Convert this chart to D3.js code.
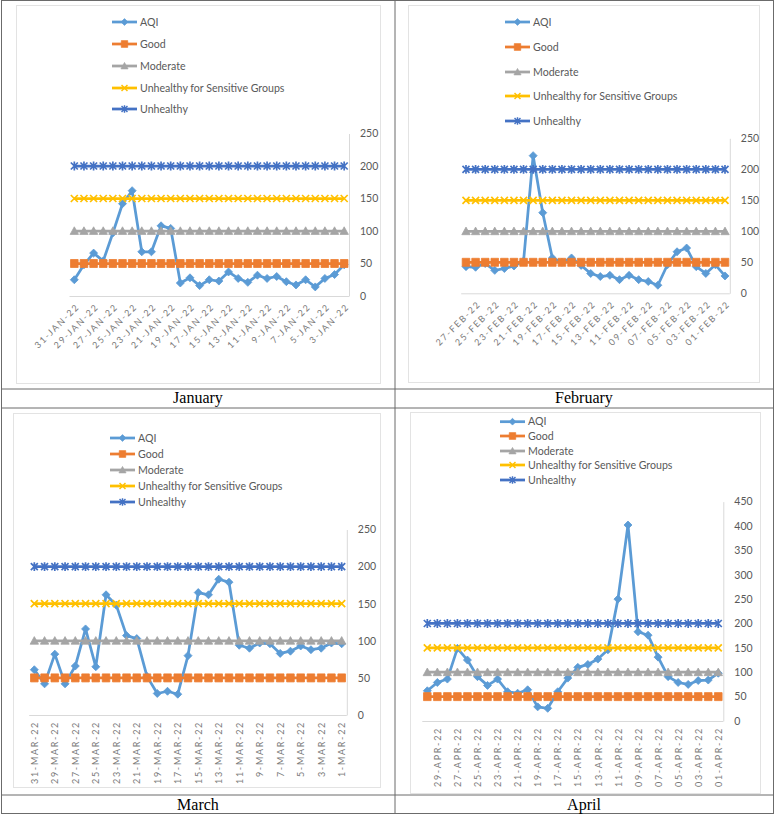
<!DOCTYPE html>
<html><head><meta charset="utf-8">
<script src="https://cdn.jsdelivr.net/npm/d3@7/dist/d3.min.js"></script>
<style>body{margin:0;background:#fff} svg{display:block}</style>
</head><body>
<svg id="c" width="776" height="815"></svg>
<script>
// ---------- DATA ----------
const seriesNames = ["AQI", "Good", "Moderate", "Unhealthy for Sensitive Groups", "Unhealthy"];
const seriesColors = ["#5B9BD5", "#ED7D31", "#A5A5A5", "#FFC000", "#4472C4"];
const levelValues = [50, 100, 150, 200]; // Good, Moderate, USG, Unhealthy
const monthNames = ["January", "February", "March", "April"];

const janDates = ["31-JAN-22","30-JAN-22","29-JAN-22","28-JAN-22","27-JAN-22","26-JAN-22","25-JAN-22","24-JAN-22","23-JAN-22","22-JAN-22","21-JAN-22","20-JAN-22","19-JAN-22","18-JAN-22","17-JAN-22","16-JAN-22","15-JAN-22","14-JAN-22","13-JAN-22","12-JAN-22","11-JAN-22","10-JAN-22","9-JAN-22","8-JAN-22","7-JAN-22","6-JAN-22","5-JAN-22","4-JAN-22","3-JAN-22"];
const janAQI = [25, 48, 66, 54, 97, 142, 162, 68, 68, 108, 104, 20, 28, 16, 25, 23, 37, 27, 21, 32, 27, 30, 22, 17, 25, 14, 27, 33, 48];

const febDates = ["28-FEB-22","27-FEB-22","26-FEB-22","25-FEB-22","24-FEB-22","23-FEB-22","22-FEB-22","21-FEB-22","20-FEB-22","19-FEB-22","18-FEB-22","17-FEB-22","16-FEB-22","15-FEB-22","14-FEB-22","13-FEB-22","12-FEB-22","11-FEB-22","10-FEB-22","09-FEB-22","08-FEB-22","07-FEB-22","06-FEB-22","05-FEB-22","04-FEB-22","03-FEB-22","02-FEB-22","01-FEB-22"];
const febAQI = [43, 42, 48, 37, 40, 44, 52, 222, 130, 57, 50, 57, 45, 32, 27, 29, 22, 29, 22, 19, 13, 46, 67, 73, 43, 32, 46, 28];

const marDates = ["31-MAR-22","30-MAR-22","29-MAR-22","28-MAR-22","27-MAR-22","26-MAR-22","25-MAR-22","24-MAR-22","23-MAR-22","22-MAR-22","21-MAR-22","20-MAR-22","19-MAR-22","18-MAR-22","17-MAR-22","16-MAR-22","15-MAR-22","14-MAR-22","13-MAR-22","12-MAR-22","11-MAR-22","10-MAR-22","9-MAR-22","8-MAR-22","7-MAR-22","6-MAR-22","5-MAR-22","4-MAR-22","3-MAR-22","2-MAR-22","1-MAR-22"];
const marAQI = [61, 42, 82, 42, 66, 116, 65, 162, 148, 107, 103, 52, 29, 32, 28, 80, 165, 162, 183, 179, 94, 90, 97, 96, 83, 86, 93, 88, 90, 97, 96];

const aprDates = ["30-APR-22","29-APR-22","28-APR-22","27-APR-22","26-APR-22","25-APR-22","24-APR-22","23-APR-22","22-APR-22","21-APR-22","20-APR-22","19-APR-22","18-APR-22","17-APR-22","16-APR-22","15-APR-22","14-APR-22","13-APR-22","12-APR-22","11-APR-22","10-APR-22","09-APR-22","08-APR-22","07-APR-22","06-APR-22","05-APR-22","04-APR-22","03-APR-22","02-APR-22","01-APR-22"];
const aprAQI = [62, 79, 86, 149, 125, 91, 73, 86, 60, 57, 64, 29, 26, 60, 88, 110, 116, 127, 146, 250, 402, 183, 176, 131, 91, 79, 75, 83, 84, 98];

const yTicksLow = [0, 50, 100, 150, 200, 250];
const yTicksHigh = [0, 50, 100, 150, 200, 250, 300, 350, 400, 450];

// ---------- LAYOUT ----------
const panels = [
  {dates: janDates, aqi: janAQI, ticks: yTicksLow, labelOffset: 0, rot: -45,
   xr: [69.5, 349], yr: [296, 133.5], box: [16, 5, 380, 383],
   leg: {x: 112, ys: [22, 44, 66, 88, 109]}, cap: {x: 198, y: 403}},
  {dates: febDates, aqi: febAQI, ticks: yTicksLow, labelOffset: 1, rot: -45,
   xr: [461.2, 729.8], yr: [293.3, 138.3], box: [408, 5, 759, 382],
   leg: {x: 505, ys: [22, 47, 72, 96, 121]}, cap: {x: 584, y: 403}},
  {dates: marDates, aqi: marAQI, ticks: yTicksLow, labelOffset: 0, rot: -90,
   xr: [29.2, 346.8], yr: [715, 529.5], box: [13, 413, 380, 787],
   leg: {x: 110, ys: [438, 454, 470, 486, 502]}, cap: {x: 198, y: 810}},
  {dates: aprDates, aqi: aprAQI, ticks: yTicksHigh, labelOffset: 1, rot: -90,
   xr: [422.3, 723.3], yr: [721, 501.6], box: [410, 412, 760, 793],
   leg: {x: 500, ys: [421.7, 436, 451, 465, 480]}, cap: {x: 584, y: 810}}
];

const svg = d3.select("#c");

// table borders
const tb = svg.append("g").attr("stroke", "#6b6b6b").attr("stroke-width", 1).attr("fill", "none");
[[1,0.5,774,0.5],[1,389,774,389],[1,408,774,408],[1,795,774,795],[1,813.5,774,813.5],
 [1.5,0,1.5,814],[395,0,395,814],[773.5,0,773.5,814]].forEach(l=>{
  tb.append("line").attr("x1",l[0]).attr("y1",l[1]).attr("x2",l[2]).attr("y2",l[3]);
});

function markerPath(k) {
  switch (k) {
    case 0: return "M0,-4L4,0L0,4L-4,0Z";
    case 1: return "M-3.8,-4H3.8V4H-3.8Z";
    case 2: return "M0,-4.2L4.2,3.4L-4.2,3.4Z";
    case 3: return "M-3.5,-3.5L3.5,3.5M-3.5,3.5L3.5,-3.5";
    case 4: return "M-3.5,-3.5L3.5,3.5M-3.5,3.5L3.5,-3.5M0,-4.4V4.4";
  }
}
function drawMarker(sel, k, color) {
  const p = sel.append("path").attr("d", markerPath(k));
  if (k >= 3) p.attr("fill", "none").attr("stroke", color).attr("stroke-width", 1.7);
  else p.attr("fill", color).attr("stroke", color).attr("stroke-width", 0.8);
  return p;
}

panels.forEach((p, pi) => {
  const g = svg.append("g");
  const b = p.box;
  g.append("rect").attr("x", b[0]+0.5).attr("y", b[1]+0.5).attr("width", b[2]-b[0]).attr("height", b[3]-b[1])
    .attr("fill", "#fff").attr("stroke", "#e3e3e3").attr("stroke-width", 1);

  const x = d3.scalePoint().domain(p.dates).range(p.xr).padding(0.5);
  const yMax = p.ticks[p.ticks.length - 1];
  const y = d3.scaleLinear().domain([0, yMax]).range(p.yr);

  // x axis
  const labelled = p.dates.filter((d, i) => i % 2 === p.labelOffset);
  const xa = g.append("g").attr("transform", `translate(0,${p.yr[0]})`)
    .call(d3.axisBottom(x).tickValues(labelled).tickSize(0).tickSizeOuter(0).tickPadding(0));
  xa.select(".domain").attr("stroke", "#d9d9d9").attr("stroke-width", 1)
    .attr("d", `M${p.xr[0]},0.5H${p.xr[1]}`);
  xa.selectAll(".tick text")
    .attr("font-family", "Lato, 'Liberation Sans', sans-serif").attr("font-size", 9)
    .attr("letter-spacing", "1.7px").attr("fill", "#7a7a7a")
    .attr("text-anchor", "end").attr("dy", "0.35em").attr("y", 0)
    .attr("transform", p.rot === -45 ? "translate(3,9) rotate(-45)" : "translate(0,6) rotate(-90)");

  // y axis (right)
  const ya = g.append("g").attr("transform", `translate(${p.xr[1]},0)`)
    .call(d3.axisRight(y).tickValues(p.ticks).tickSize(0).tickSizeOuter(0).tickPadding(11));
  ya.select(".domain").attr("stroke", "#d9d9d9");
  ya.selectAll(".tick text").attr("font-family", "Lato, 'Liberation Sans', sans-serif")
    .attr("font-size", 10.5).attr("fill", "#595959");

  // series
  const series = [p.aqi].concat(levelValues.map(v => p.dates.map(() => v)));
  series.forEach((vals, si) => {
    const line = d3.line().x((d, i) => x(p.dates[i])).y(d => y(d));
    g.append("path").datum(vals).attr("d", line).attr("fill", "none")
      .attr("stroke", seriesColors[si]).attr("stroke-width", 2.75).attr("stroke-linejoin", "round");
    vals.forEach((v, i) => {
      const mg = g.append("g").attr("transform", `translate(${x(p.dates[i])},${y(v)})`);
      drawMarker(mg, si, seriesColors[si]);
    });
  });

  // legend
  const lg = g.append("g");
  seriesNames.forEach((name, si) => {
    const yy = p.leg.ys[si];
    lg.append("line").attr("x1", p.leg.x).attr("x2", p.leg.x + 25).attr("y1", yy).attr("y2", yy)
      .attr("stroke", seriesColors[si]).attr("stroke-width", 2.75);
    const mg = lg.append("g").attr("transform", `translate(${p.leg.x + 12.5},${yy}) scale(0.85)`);
    drawMarker(mg, si, seriesColors[si]);
    lg.append("text").attr("x", p.leg.x + 28).attr("y", yy).attr("dy", "0.35em")
      .attr("font-family", "Lato, 'Liberation Sans', sans-serif").attr("font-size", 10.6)
      .attr("fill", "#595959").text(name);
  });

  // caption
  svg.append("text").attr("x", p.cap.x).attr("y", p.cap.y).attr("text-anchor", "middle")
    .attr("font-family", "'Liberation Serif', 'Times New Roman', serif").attr("font-size", 16)
    .attr("fill", "#000").text(monthNames[pi]);
});
</script>
</body></html>
